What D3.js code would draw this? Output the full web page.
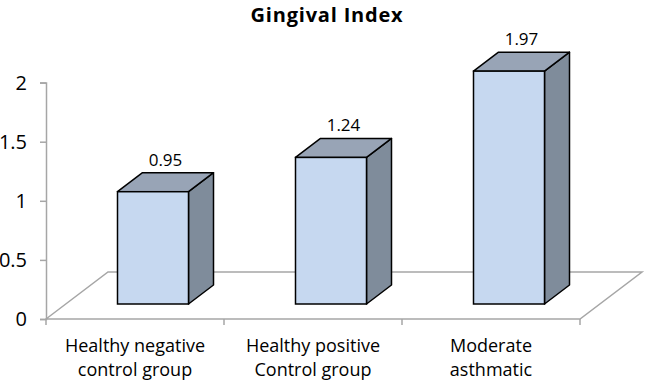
<!DOCTYPE html>
<html>
<head>
<meta charset="utf-8">
<script src="https://cdn.jsdelivr.net/npm/d3@7"></script>
<style>
  body { margin: 0; background: #fff; }
  text { font-family: "Open Sans", Lato, sans-serif; fill: #000; }
</style>
</head>
<body>
<svg id="chart" width="646" height="383"></svg>
<script>
// Chart data
const categories = [
  ["Healthy negative", "control group"],
  ["Healthy positive", "Control group"],
  ["Moderate", "asthmatic"]
];
const values = [0.95, 1.24, 1.97];
const yTicks = [0, 0.5, 1, 1.5, 2];

const svg = d3.select("#chart");

// Scales (front plane of the 3D floor)
const x = d3.scaleBand()
  .domain(d3.range(categories.length))
  .range([46, 580]);

const y = d3.scaleLinear()
  .domain([0, 2])
  .range([319, 82.6]);

// 3D depth of floor and bars
const floorDx = 62, floorDy = -47;
const barShiftX = 18, barShiftY = -15; // bar front face sits a bit into the floor
const barDx = 25, barDy = -19;
const barW = 71;

// Title
svg.append("text")
  .attr("x", 327)
  .attr("y", 22)
  .attr("text-anchor", "middle")
  .style("font-size", "20px")
  .style("font-weight", "bold")
  .style("letter-spacing", "0.8px")
  .text("Gingival Index");

const gray = "#a6a6a6";

// Floor parallelogram
const x0 = x.range()[0], x1 = x.range()[1], y0 = y(0);
svg.append("path")
  .attr("d", `M${x0},${y0} L${x0 + floorDx},${y0 + floorDy} L${x1 + floorDx},${y0 + floorDy} L${x1},${y0} Z`)
  .attr("fill", "none")
  .attr("stroke", gray)
  .attr("stroke-width", 1.5);

// Y axis
const yAxis = d3.axisLeft(y)
  .tickValues(yTicks)
  .tickSize(6)
  .tickPadding(13)
  .tickFormat(d3.format("~g"));

const gy = svg.append("g")
  .attr("transform", `translate(${x0},0)`)
  .call(yAxis);
gy.select(".domain").attr("stroke", gray).attr("stroke-width", 1.5);
gy.selectAll(".tick line").attr("stroke", gray).attr("stroke-width", 1.5);
gy.selectAll(".tick text").style("font-size", "20px").attr("fill", "#000");

// X axis category separators
const seps = d3.range(categories.length + 1).map(i => x0 + i * x.step());
svg.selectAll(".sep")
  .data(seps)
  .enter().append("line")
  .attr("class", "sep")
  .attr("x1", d => d).attr("x2", d => d)
  .attr("y1", y0).attr("y2", y0 + 6)
  .attr("stroke", gray)
  .attr("stroke-width", 1.5);

// Bars
const bars = svg.selectAll(".bar")
  .data(values)
  .enter().append("g")
  .attr("class", "bar");

const bx = (d, i) => x(i) + x.bandwidth() / 2 + barShiftX - barW / 2;
const baseY = y0 + barShiftY;
const topY = d => y(d) + barShiftY;

// side face
bars.append("path")
  .attr("d", (d, i) => {
    const l = bx(d, i) + barW;
    return `M${l},${topY(d)} L${l + barDx},${topY(d) + barDy} L${l + barDx},${baseY + barDy} L${l},${baseY} Z`;
  })
  .attr("fill", "#7f8c9b")
  .attr("stroke", "#000")
  .attr("stroke-width", 1.5)
  .attr("stroke-linejoin", "round");

// top face
bars.append("path")
  .attr("d", (d, i) => {
    const l = bx(d, i), t = topY(d);
    return `M${l},${t} L${l + barDx},${t + barDy} L${l + barW + barDx},${t + barDy} L${l + barW},${t} Z`;
  })
  .attr("fill", "#98a4b6")
  .attr("stroke", "#000")
  .attr("stroke-width", 1.5)
  .attr("stroke-linejoin", "round");

// front face
bars.append("rect")
  .attr("x", (d, i) => bx(d, i))
  .attr("y", d => topY(d))
  .attr("width", barW)
  .attr("height", d => baseY - topY(d))
  .attr("fill", "#c6d8f0")
  .attr("stroke", "#000")
  .attr("stroke-width", 1.5);

// value labels
bars.append("text")
  .attr("x", (d, i) => bx(d, i) + (barW + barDx) / 2)
  .attr("y", d => topY(d) + barDy - 7)
  .attr("text-anchor", "middle")
  .style("font-size", "17px")
  .text(d => d);

// Category labels
const catG = svg.selectAll(".cat")
  .data(categories)
  .enter().append("text")
  .attr("class", "cat")
  .attr("text-anchor", "middle")
  .style("font-size", "18px");
catG.selectAll("tspan")
  .data((d, i) => d.map(line => ({ line, i })))
  .enter().append("tspan")
  .attr("x", d => x(d.i) + x.bandwidth() / 2)
  .attr("y", (d, j) => 352 + j * 24)
  .text(d => d.line);
</script>
</body>
</html>
